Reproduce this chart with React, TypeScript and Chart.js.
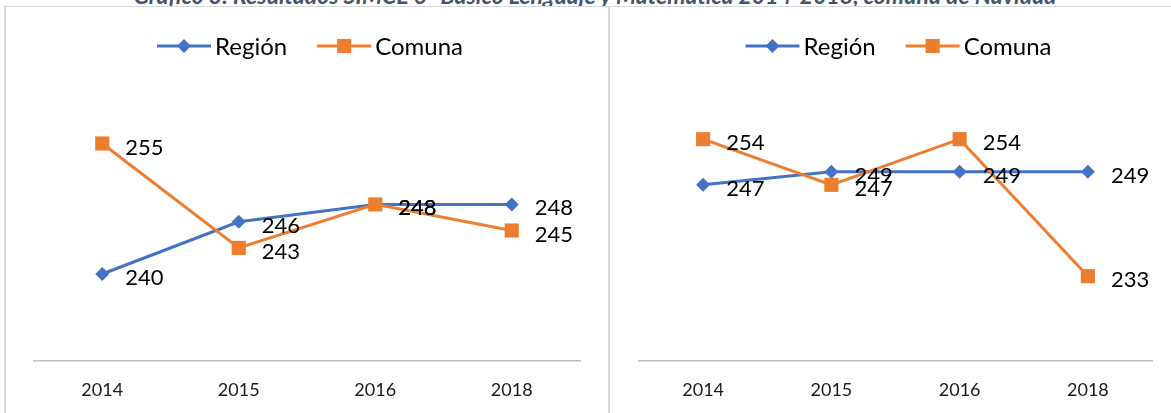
import React, { useEffect, useRef } from "react";
import { Chart, registerables } from "chart.js";

Chart.register(...registerables);

// ---- data ----
const years = ["2014", "2015", "2016", "2018"];
const seriesNames = ["Región", "Comuna"];
const lenguajeRegion = [240, 246, 248, 248];
const lenguajeComuna = [255, 243, 248, 245];
const matematicaRegion = [247, 249, 249, 249];
const matematicaComuna = [254, 247, 254, 233];
const titleText =
  "Gráfico 3: Resultados SIMCE 6° Básico Lenguaje y Matemática 2014-2018, comuna de Navidad";

const BLUE = "#4472C4";
const ORANGE = "#ED7D31";
const FONT = "Lato";

function drawMarker(ctx: CanvasRenderingContext2D, style: string, x: number, y: number, r: number, color: string) {
  ctx.fillStyle = color;
  ctx.beginPath();
  if (style === "rectRot") {
    ctx.moveTo(x - r, y);
    ctx.lineTo(x, y - r);
    ctx.lineTo(x + r, y);
    ctx.lineTo(x, y + r);
    ctx.closePath();
  } else {
    const s = r * Math.SQRT1_2;
    ctx.rect(x - s, y - s, 2 * s, 2 * s);
  }
  ctx.fill();
}

const lineLegendPlugin = {
  id: "lineLegend",
  afterDraw(chart: any) {
    const ctx = chart.ctx as CanvasRenderingContext2D;
    const ca = chart.chartArea;
    const y = 39;
    ctx.save();
    ctx.font = `24px ${FONT}`;
    const lineLen = 54;
    const gapText = 4;
    const gapItem = 30;
    const items = chart.data.datasets.map((ds: any) => ({
      label: ds.label,
      color: ds.borderColor,
      style: ds.pointStyle,
      r: ds.pointRadius,
      w: ctx.measureText(ds.label).width,
    }));
    const total =
      items.reduce((s: number, it: any) => s + lineLen + gapText + it.w, 0) + gapItem * (items.length - 1);
    let x = (ca.left + ca.right) / 2 + 3 - total / 2;
    items.forEach((it: any) => {
      ctx.strokeStyle = it.color;
      ctx.lineWidth = 3;
      ctx.beginPath();
      ctx.moveTo(x, y);
      ctx.lineTo(x + lineLen, y);
      ctx.stroke();
      drawMarker(ctx, it.style, x + lineLen / 2, y, it.r, it.color);
      x += lineLen + gapText;
      ctx.fillStyle = "#000";
      ctx.textBaseline = "middle";
      ctx.textAlign = "left";
      ctx.fillText(it.label, x, y + 1);
      x += it.w + gapItem;
    });
    ctx.restore();
  },
};

const dataLabelPlugin = {
  id: "dataLabels",
  afterDatasetsDraw(chart: any) {
    const ctx = chart.ctx as CanvasRenderingContext2D;
    ctx.save();
    ctx.font = `22px ${FONT}`;
    ctx.fillStyle = "#000";
    ctx.textAlign = "left";
    ctx.textBaseline = "alphabetic";
    chart.data.datasets.forEach((ds: any, i: number) => {
      const meta = chart.getDatasetMeta(i);
      meta.data.forEach((pt: any, j: number) => {
        ctx.fillText(String(ds.data[j]), pt.x + 23, pt.y + 11);
      });
    });
    ctx.restore();
  },
};

type Props = {
  left: number;
  width: number;
  region: number[];
  comuna: number[];
  yMin: number;
  yMax: number;
  padLeft: number;
  padRight: number;
};

const CANVAS_H = 406;

function LineChart({ left, width, region, comuna, yMin, yMax, padLeft, padRight }: Props) {
  const ref = useRef<HTMLCanvasElement | null>(null);
  useEffect(() => {
    if (!ref.current) return;
    const chart = new Chart(ref.current, {
      type: "line",
      data: {
        labels: years,
        datasets: [
          {
            label: seriesNames[0],
            data: region,
            borderColor: BLUE,
            backgroundColor: BLUE,
            borderWidth: 3,
            pointStyle: "rectRot",
            pointRadius: 7,
            pointBorderWidth: 0,
            pointBackgroundColor: BLUE,
            tension: 0,
            order: 1,
          },
          {
            label: seriesNames[1],
            data: comuna,
            borderColor: ORANGE,
            backgroundColor: ORANGE,
            borderWidth: 3,
            pointStyle: "rect",
            pointRadius: 10,
            pointBorderWidth: 0,
            pointBackgroundColor: ORANGE,
            tension: 0,
            order: 0,
          },
        ],
      },
      options: {
        responsive: false,
        animation: false,
        layout: { padding: { top: 93, left: padLeft, right: padRight, bottom: 7 } },
        plugins: {
          legend: { display: false },
          tooltip: { enabled: false },
          title: { display: false },
        },
        scales: {
          x: {
            offset: true,
            grid: { display: false, drawTicks: false },
            border: { display: true, color: "#bfbfbf", width: 1.5 },
            ticks: { color: "#1a1a1a", font: { family: FONT, size: 18 }, padding: 18 },
            afterFit: (scale: any) => {
              scale.height = 45;
            },
          },
          y: { display: false, min: yMin, max: yMax },
        },
      },
      plugins: [lineLegendPlugin, dataLabelPlugin],
    } as any);
    return () => chart.destroy();
  }, []);
  return (
    <canvas
      ref={ref}
      width={width}
      height={CANVAS_H}
      style={{ position: "absolute", left, top: 7, width, height: CANVAS_H, display: "block" }}
    />
  );
}

export default function App() {
  return (
    <div
      style={{
        position: "absolute",
        left: 0,
        top: 0,
        width: 1171,
        height: 413,
        overflow: "hidden",
        background: "#fff",
        fontFamily: FONT,
      }}
    >
      <div style={{ position: "absolute", left: 0, top: 0, width: 1171, height: 6, overflow: "hidden" }}>
        <div
          style={{
            position: "absolute",
            left: 0,
            width: 1190,
            top: -16,
            textAlign: "center",
            fontWeight: "bold",
            fontStyle: "italic",
            fontSize: 23,
            lineHeight: "23px",
            color: "#44546A",
            whiteSpace: "nowrap",
          }}
        >
          {titleText}
        </div>
      </div>
      <div
        style={{
          position: "absolute",
          left: 4,
          top: 6,
          width: 603,
          height: 420,
          borderTop: "1px solid #d9d9d9",
          borderLeft: "2px solid #d9d9d9",
          borderRight: "1px solid #d9d9d9",
        }}
      />
      <div
        style={{
          position: "absolute",
          left: 608,
          top: 6,
          width: 600,
          height: 420,
          borderTop: "1px solid #d9d9d9",
          borderLeft: "1px solid #d9d9d9",
        }}
      />
      <LineChart
        left={5}
        width={603}
        region={lenguajeRegion}
        comuna={lenguajeComuna}
        yMin={230}
        yMax={260}
        padLeft={29}
        padRight={28}
      />
      <LineChart
        left={609}
        width={562}
        region={matematicaRegion}
        comuna={matematicaComuna}
        yMin={220}
        yMax={260}
        padLeft={30}
        padRight={19}
      />
    </div>
  );
}
